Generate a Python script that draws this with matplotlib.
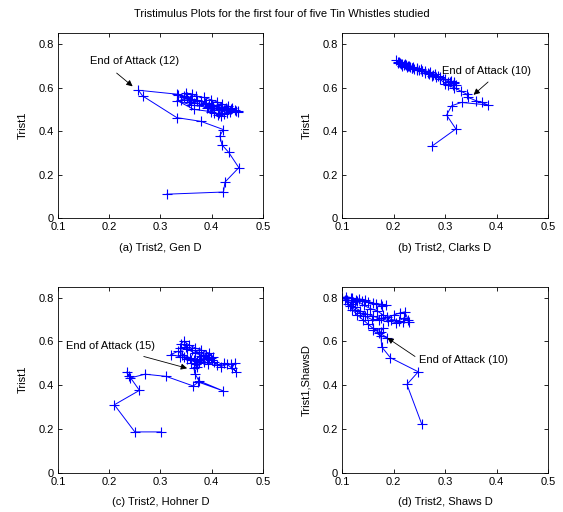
import matplotlib
matplotlib.use("Agg")
import matplotlib.pyplot as plt

plt.rcParams['font.family'] = ['Liberation Sans', 'DejaVu Sans']
plt.rcParams['font.size'] = 8

title = "Tristimulus Plots for the first four of five Tin Whistles studied"

# (a) Gen D
gen_x = [0.312, 0.423, 0.426, 0.453, 0.433, 0.420, 0.416, 0.423, 0.379, 0.332, 0.265, 0.257,
         0.332, 0.335, 0.345, 0.352, 0.340, 0.360, 0.355, 0.372, 0.365, 0.380, 0.388, 0.375,
         0.395, 0.402, 0.390, 0.410, 0.418, 0.405, 0.420, 0.428, 0.415, 0.430, 0.438, 0.425,
         0.445, 0.452, 0.440, 0.432, 0.420, 0.410, 0.398, 0.385, 0.370, 0.362, 0.350, 0.345,
         0.358, 0.372, 0.386, 0.400, 0.412, 0.424, 0.436, 0.448, 0.412, 0.398, 0.365, 0.333,
         0.360, 0.392, 0.405, 0.418, 0.430, 0.452]
gen_y = [0.110, 0.120, 0.166, 0.232, 0.303, 0.337, 0.379, 0.407, 0.445, 0.462, 0.562, 0.588,
         0.570, 0.565, 0.560, 0.555, 0.545, 0.550, 0.535, 0.545, 0.530, 0.540, 0.530, 0.520,
         0.525, 0.515, 0.505, 0.520, 0.510, 0.495, 0.500, 0.505, 0.485, 0.495, 0.500, 0.480,
         0.495, 0.490, 0.505, 0.515, 0.525, 0.535, 0.545, 0.555, 0.560, 0.570, 0.575, 0.555,
         0.545, 0.540, 0.530, 0.520, 0.505, 0.495, 0.490, 0.492, 0.475, 0.490, 0.500, 0.540,
         0.520, 0.510, 0.485, 0.470, 0.482, 0.492]

# (b) Clarks D
clarks_x = [0.274, 0.321, 0.303, 0.313, 0.332, 0.384, 0.371, 0.360, 0.345, 0.342,
            0.330, 0.318, 0.305, 0.318, 0.312, 0.300, 0.290, 0.282, 0.275, 0.268, 0.262,
            0.255, 0.250, 0.245, 0.240, 0.236, 0.232, 0.228, 0.224, 0.220, 0.216, 0.212,
            0.208, 0.205, 0.210, 0.215, 0.222, 0.230, 0.238, 0.246, 0.254, 0.262, 0.270,
            0.280, 0.290, 0.300, 0.310, 0.318, 0.322, 0.315, 0.306, 0.296, 0.286, 0.276,
            0.266, 0.256, 0.246, 0.236, 0.226, 0.216, 0.208]
clarks_y = [0.330, 0.410, 0.474, 0.517, 0.532, 0.520, 0.532, 0.540, 0.555, 0.570,
            0.585, 0.600, 0.610, 0.625, 0.630, 0.618, 0.640, 0.650, 0.655, 0.665, 0.668,
            0.675, 0.680, 0.685, 0.688, 0.692, 0.695, 0.700, 0.703, 0.706, 0.710, 0.715,
            0.720, 0.725, 0.718, 0.710, 0.708, 0.700, 0.695, 0.690, 0.685, 0.678, 0.672,
            0.662, 0.650, 0.640, 0.628, 0.620, 0.610, 0.612, 0.625, 0.640, 0.652, 0.660,
            0.668, 0.676, 0.682, 0.690, 0.695, 0.700, 0.712]

# (c) Hohner D
hohner_x = [0.302, 0.250, 0.210, 0.259, 0.239, 0.234, 0.240, 0.270, 0.311, 0.364, 0.374,
            0.423, 0.375, 0.368, 0.365,
            0.370, 0.385, 0.378, 0.392, 0.400, 0.388, 0.375, 0.362, 0.350, 0.340, 0.345,
            0.355, 0.368, 0.380, 0.395, 0.402, 0.390, 0.372, 0.358, 0.342, 0.335, 0.320,
            0.338, 0.352, 0.366, 0.380, 0.394, 0.410, 0.425, 0.438, 0.445, 0.440, 0.448,
            0.430, 0.418, 0.405, 0.392, 0.376, 0.360, 0.346, 0.338, 0.352, 0.368, 0.384,
            0.398, 0.372, 0.360]
hohner_y = [0.186, 0.186, 0.310, 0.376, 0.442, 0.460, 0.432, 0.450, 0.440, 0.396, 0.414,
            0.373, 0.420, 0.450, 0.478,
            0.495, 0.505, 0.520, 0.530, 0.515, 0.540, 0.550, 0.560, 0.575, 0.590, 0.600,
            0.585, 0.570, 0.560, 0.545, 0.530, 0.520, 0.510, 0.525, 0.540, 0.555, 0.540,
            0.530, 0.520, 0.515, 0.535, 0.525, 0.490, 0.500, 0.495, 0.500, 0.480, 0.462,
            0.495, 0.485, 0.505, 0.495, 0.505, 0.515, 0.530, 0.570, 0.565, 0.545, 0.535,
            0.525, 0.485, 0.500]

# (d) Shaws D
shaws_x = [0.255, 0.226, 0.248, 0.194, 0.177, 0.175, 0.180, 0.160, 0.175, 0.188,
           0.172, 0.160, 0.150, 0.140, 0.130, 0.120, 0.112, 0.105, 0.100, 0.108, 0.118,
           0.128, 0.138, 0.150, 0.165, 0.178, 0.185, 0.175, 0.160, 0.145, 0.132, 0.122,
           0.115, 0.125, 0.135, 0.145, 0.158, 0.172, 0.188, 0.200, 0.212, 0.222, 0.228,
           0.218, 0.205, 0.190, 0.175, 0.160, 0.148, 0.135, 0.125, 0.118, 0.110, 0.120,
           0.130, 0.142, 0.155, 0.168, 0.180, 0.195, 0.210, 0.220, 0.230]
shaws_y = [0.220, 0.403, 0.461, 0.525, 0.575, 0.644, 0.660, 0.650, 0.625, 0.616,
           0.640, 0.660, 0.680, 0.700, 0.720, 0.745, 0.770, 0.790, 0.800, 0.805, 0.800,
           0.790, 0.785, 0.780, 0.770, 0.760, 0.765, 0.770, 0.775, 0.790, 0.795, 0.780,
           0.760, 0.745, 0.730, 0.715, 0.700, 0.700, 0.710, 0.720, 0.730, 0.735, 0.700,
           0.690, 0.685, 0.695, 0.705, 0.715, 0.725, 0.740, 0.755, 0.770, 0.790, 0.800,
           0.785, 0.765, 0.750, 0.740, 0.720, 0.700, 0.695, 0.705, 0.690]

xlabels = ["(a) Trist2, Gen D", "(b) Trist2, Clarks D", "(c) Trist2, Hohner D", "(d) Trist2, Shaws D"]
ylabels = ["Trist1", "Trist1", "Trist1", "Trist1,ShawsD"]
notes = ["End of Attack (12)", "End of Attack (10)", "End of Attack (15)", "End of Attack (10)"]
note_text = [(0.162, 0.722), (0.294, 0.677), (0.116, 0.577), (0.250, 0.515)]
note_from = [(0.2145, 0.667), (0.3835, 0.626), (0.2674, 0.531), (0.2417, 0.531)]
note_to = [(0.2457, 0.606), (0.3553, 0.567), (0.352, 0.477), (0.188, 0.616)]

series = [(gen_x, gen_y), (clarks_x, clarks_y), (hohner_x, hohner_y), (shaws_x, shaws_y)]
rects = [[0.103, 0.574, 0.364, 0.361], [0.6075, 0.574, 0.366, 0.361],
         [0.103, 0.077, 0.364, 0.363], [0.6075, 0.077, 0.366, 0.363]]

fig = plt.figure(figsize=(5.63, 5.12), dpi=100)
fig.text(0.5, 0.972, title, ha='center', va='center', fontsize=8)

for i in range(4):
    ax = fig.add_axes(rects[i])
    x, y = series[i]
    ax.plot(x, y, '-', color='#0000ff', lw=0.7, marker='+', ms=7, mew=0.8)
    ax.set_xlim(0.1, 0.5)
    ax.set_ylim(0, 0.85)
    ax.set_xticks([0.1, 0.2, 0.3, 0.4, 0.5])
    ax.set_xticklabels(["0.1", "0.2", "0.3", "0.4", "0.5"])
    ax.set_yticks([0, 0.2, 0.4, 0.6, 0.8])
    ax.set_yticklabels(["0", "0.2", "0.4", "0.6", "0.8"])
    ax.tick_params(direction='in', top=True, right=True, length=3, width=0.6, labelsize=8, pad=3)
    for s in ax.spines.values():
        s.set_linewidth(0.6)
    ax.set_xlabel(xlabels[i], fontsize=8, labelpad=7.5)
    ax.set_ylabel(ylabels[i], fontsize=8, labelpad=8)
    ax.text(note_text[i][0], note_text[i][1], notes[i], ha='left', va='center', fontsize=8)
    ax.annotate("", xy=note_to[i], xytext=note_from[i],
                arrowprops=dict(arrowstyle='-|>', color='black', lw=0.6,
                                mutation_scale=9, shrinkA=0, shrinkB=0))

fig.savefig("out.png", dpi=100)
